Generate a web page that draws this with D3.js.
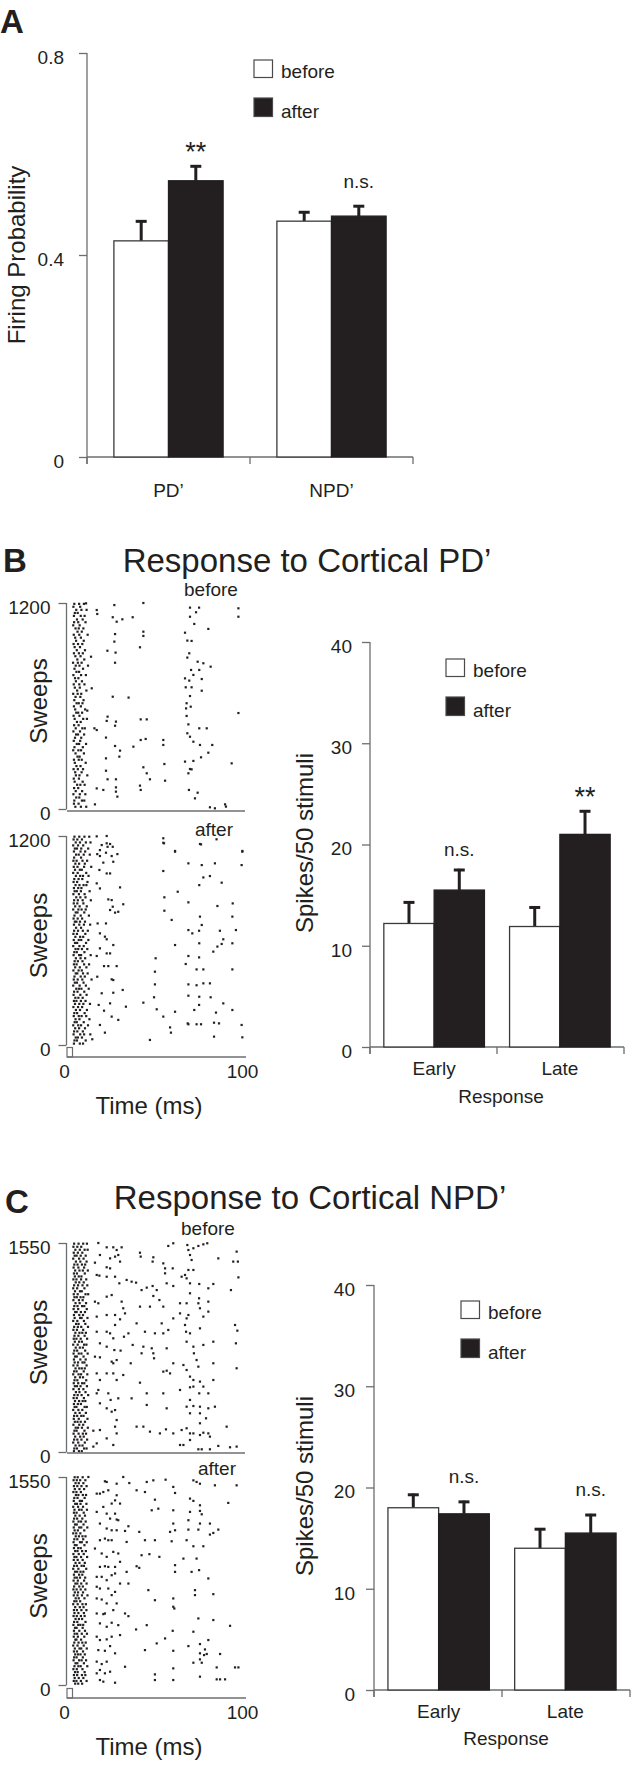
<!DOCTYPE html>
<html><head><meta charset="utf-8">
<script src="https://cdn.jsdelivr.net/npm/d3@7"></script>
<style>body{margin:0;background:#fff}svg{display:block}</style>
</head><body>
<svg id="c" width="631" height="1766"></svg>
<script>
// ---------------- DATA ----------------
const seriesNames = ["before", "after"];
const aCategories = ["PD’", "NPD’"];
const aBefore = [0.428, 0.467];
const aBeforeErr = [0.041, 0.020];
const aAfter = [0.547, 0.477];
const aAfterErr = [0.031, 0.022];
const aSig = ["**", "n.s."];
const aTicks = [0, 0.4, 0.8];

const respCategories = ["Early", "Late"];
const bBefore = [12.2, 11.9];
const bBeforeErr = [2.2, 2.0];
const bAfter = [15.5, 21.0];
const bAfterErr = [2.1, 2.4];
const bSig = ["n.s.", "**"];

const cBefore = [18.0, 14.0];
const cBeforeErr = [1.4, 2.0];
const cAfter = [17.4, 15.5];
const cAfterErr = [1.3, 1.9];
const cSig = ["n.s.", "n.s."];
const countTicks = [0, 10, 20, 30, 40];

const timeTicks = [0, 100];
const bSweepTicks = [0, 1200];
const cSweepTicks = [0, 1550];

// raster spikes [time ms, sweep]
const bBeforeBand = [[1195,[4.1,6.8,9.5]],[1178,[3.6,7.4]],[1160,[5.2,8.1,11.0]],[1142,[4.4,6.0]],[1125,[3.9,7.7,9.9]],[1104,[5.6,8.8]],[1088,[4.0,6.3,10.4]],[1070,[3.5,7.1]],[1052,[4.8,6.6,9.2]],[1033,[5.9,8.3]],[1015,[3.8,6.9,11.6]],[998,[4.6,7.8]],[980,[5.1,9.4]],[961,[3.7,6.2,8.6]],[943,[4.3,7.3]],[925,[5.5,10.1]],[907,[3.9,6.7,8.9]],[890,[4.7,7.6]],[871,[5.8,9.7]],[852,[3.4,6.1,8.2]],[835,[4.9,7.0,11.8]],[817,[4.2,9.0]],[799,[5.3,6.8]],[780,[3.6,7.9,10.6]],[762,[4.5,6.4]],[744,[5.0,8.4]],[726,[3.8,6.9,9.8]],[707,[4.4,7.2]],[690,[5.7,10.9]],[671,[3.5,6.0,8.0]],[653,[4.8,7.5]],[634,[4.1,9.3]],[616,[5.4,6.6,8.7]],[598,[3.9,7.8]],[580,[4.6,10.2]],[561,[5.2,6.3,8.5]],[543,[3.7,7.0]],[525,[4.3,9.1,11.2]],[507,[5.6,7.7]],[488,[4.0,6.5]],[470,[4.9,8.6,10.0]],[452,[3.6,7.3]],[434,[5.1,6.2,9.6]],[415,[4.5,8.0]],[397,[3.8,7.4]],[379,[5.5,6.8,10.7]],[360,[4.2,8.9]],[342,[3.5,6.4,7.9]],[324,[4.8,9.5]],[305,[5.9,7.1]],[287,[3.9,6.6,8.3]],[269,[4.4,10.5]],[250,[5.3,7.6]],[232,[3.7,6.1,9.0]],[214,[4.6,8.2]],[196,[5.0,7.0,11.4]],[177,[3.8,6.7]],[159,[4.3,8.8]],[141,[5.7,7.5,9.9]],[122,[4.0,6.3]],[104,[4.9,8.5]],[86,[3.6,7.2,10.3]],[67,[5.2,6.9]],[49,[4.1,8.4,9.7]],[31,[3.9,6.5]],[13,[4.7,7.8,10.8]]];
const bBeforeSparse = [[10.7,1198],[16.7,1159],[17.0,1136],[26.6,1188],[42.9,1200],[25.7,1117],[27.9,1091],[31.1,1105],[36.9,1117],[42.9,1033],[42.9,1008],[27.0,1019],[26.6,975],[41.0,942],[22.7,922],[27.3,911],[27.0,852],[13.5,887],[34.6,649],[25.7,654],[22.3,513],[27.5,509],[27.0,485],[22.8,538],[15.4,470],[16.7,460],[13.9,703],[11.4,573],[41.4,522],[44.8,522],[44.2,408],[41.4,402],[21.9,416],[27.0,367],[29.8,340],[29.4,305],[37.3,363],[54.1,402],[54.1,373],[54.7,262],[21.9,295],[21.9,223],[22.8,173],[27.5,173],[42.9,243],[44.8,208],[46.6,173],[55.1,165],[41.0,136],[41.4,111],[27.5,126],[27.5,101],[28.3,72],[16.7,120],[20.4,111],[15.7,27],
[69.1,1173],[72.5,1146],[74.2,1173],[69.1,1120],[71.5,1078],[79.4,1049],[66.3,1027],[67.6,981],[70.0,979],[68.7,907],[67.6,882],[73.4,858],[76.6,849],[80.7,829],[74.3,810],[69.7,810],[71.0,781],[66.3,761],[68.7,748],[75.7,757],[66.7,709],[70.0,709],[75.7,689],[69.1,658],[67.2,616],[66.9,586],[69.5,596],[67.2,542],[68.2,493],[74.3,470],[78.5,470],[67.6,441],[69.1,421],[71.0,392],[74.7,373],[81.6,373],[79.4,328],[75.3,301],[66.3,276],[71.0,280],[69.1,233],[70.0,231],[68.2,208],[92.5,266],[68.5,111],[73.4,95],[71.9,62],[96.3,1169],[96.3,1120],[96.3,559],[80.3,10],[83.1,4],[88.8,27],[89.3,14]];

const bAfterBand = [[1196,[4.2,6.9,9.8,12.5]],[1180,[3.7,5.8,8.4]],[1163,[4.9,7.3,10.6,13.2]],[1146,[3.5,6.2,9.1]],[1128,[4.4,5.6,8.0,11.9]],[1111,[3.9,7.6,10.2]],[1093,[5.1,6.6,9.4,12.8]],[1076,[4.0,7.9]],[1058,[3.6,5.4,8.7,11.3]],[1041,[4.7,6.8,10.0]],[1023,[3.8,5.9,9.6,13.6]],[1006,[4.5,7.2,8.3]],[988,[3.5,6.0,10.8]],[971,[5.0,7.4,9.0,12.1]],[953,[4.1,6.5,8.6]],[936,[3.7,5.7,11.5]],[918,[4.8,7.0,9.3,10.9]],[901,[3.9,6.3,8.1]],[883,[4.3,5.5,7.8,12.7]],[866,[3.6,6.7,9.9]],[848,[5.2,7.5,10.4]],[831,[4.0,6.1,8.8,13.4]],[813,[3.8,5.8,9.2]],[796,[4.6,7.1,11.1]],[778,[3.5,6.4,8.2,10.5]],[761,[4.9,5.9,9.7]],[743,[4.2,7.7,12.3]],[726,[3.7,6.0,8.5]],[708,[4.4,5.3,7.3,10.1]],[691,[3.9,6.9,9.5,13.0]],[673,[5.1,7.9]],[656,[4.0,6.2,8.9,11.7]],[638,[3.6,5.6,10.3]],[621,[4.7,7.4,9.1]],[603,[3.8,6.6,8.0,12.0]],[586,[4.5,5.7,10.7]],[568,[3.5,7.0,9.4]],[551,[4.8,6.3,8.4,11.4]],[533,[4.1,5.5,9.8]],[516,[3.7,6.8,7.9,13.3]],[498,[5.0,7.6,10.2]],[481,[4.3,6.1,8.7]],[463,[3.9,5.4,9.6,12.4]],[446,[4.6,7.2,10.9]],[428,[3.6,6.5,8.3]],[411,[4.9,5.8,9.0,11.6]],[393,[4.2,7.7,10.0]],[376,[3.8,6.0,8.6,13.8]],[358,[4.4,5.6,9.3]],[341,[3.5,7.1,10.6]],[323,[5.2,6.7,8.1,12.2]],[306,[4.0,5.9,9.7]],[288,[3.7,7.5,11.0]],[271,[4.7,6.4,8.8]],[253,[3.9,5.3,7.8,10.4]],[236,[4.5,6.9,9.2,12.9]],[218,[3.6,6.2,8.5]],[201,[5.0,7.3,11.2]],[183,[4.1,5.7,9.9]],[166,[3.8,6.6,8.2,10.8]],[148,[4.8,7.0,12.6]],[131,[4.3,5.5,9.4]],[113,[3.5,6.3,7.9,11.8]],[96,[4.6,6.8,10.1]],[78,[4.0,5.8,8.9]],[61,[3.7,7.4,9.6,13.1]],[43,[4.9,6.1,8.4]],[26,[4.2,5.6,10.5]],[8,[3.9,7.2,9.0]]];
const bAfterMid = [[17.0,1096],[18.5,1085],[22.3,1158],[24.2,1154],[21.9,1104],[25.1,1085],[26.0,1052],[20.4,1047],[24.2,985],[22.3,985],[18.2,1005],[16.7,928],[18.5,899],[23.2,836],[25.1,832],[29.8,905],[31.6,808],[24.2,775],[27.0,760],[28.8,765],[25.7,794],[17.2,698],[21.9,698],[18.5,641],[21.3,622],[22.3,607],[18.5,555],[22.3,526],[24.2,526],[26.0,574],[16.7,511],[20.8,453],[23.2,453],[27.9,453],[17.0,392],[25.1,377],[26.0,373],[19.5,297],[26.0,300],[31.3,316],[17.8,230],[24.2,239],[25.1,163],[20.8,197],[28.8,144],[18.5,115],[21.3,71],[14.2,33],[16.7,1198],[22.3,1200],[19.5,1148],[22.8,1138],[25.7,1138],[28.3,1096],[18.5,1119]];
const bAfterSparse = [[54.1,1161],[60.7,1110],[75.3,1152],[98.5,1110],[68.2,1043],[75.7,1033],[83.1,1043],[98.1,1033],[54.1,999],[76.6,962],[80.3,970],[86.9,932],[74.3,918],[62.2,880],[54.7,848],[68.2,819],[84.5,798],[93.1,813],[54.7,771],[58.8,718],[92.9,737],[74.7,737],[68.2,660],[70.4,641],[74.2,656],[75.7,689],[85.9,656],[94.9,660],[60.7,574],[87.8,607],[84.5,565],[74.3,584],[86.9,580],[82.2,536],[92.9,584],[49.8,498],[68.2,511],[74.2,503],[66.7,465],[72.8,434],[76.6,434],[92.9,434],[49.4,421],[49.4,348],[68.2,348],[72.8,343],[76.6,354],[80.3,354],[48.9,274],[68.2,283],[74.3,277],[80.7,274],[42.9,243],[33.1,220],[50.4,205],[60.7,191],[71.5,201],[74.2,230],[83.7,186],[87.8,239],[92.9,201],[54.1,163],[57.9,101],[67.8,124],[68.2,119],[72.8,119],[75.3,119],[82.6,128],[85.4,124],[98.1,115],[58.4,71],[46.6,29],[82.6,48],[98.5,44],[54.1,1187],[54.5,1158],[60.7,1114],[74.7,1154],[84.0,1181],[98.5,1114]];

const cBeforeBand = [[1545,[4.0,6.5,9.1,11.2]],[1522,[3.6,5.8,8.0]],[1500,[4.7,7.2,9.9,11.6]],[1478,[3.8,6.1,8.6]],[1456,[4.3,5.4,7.7,10.5]],[1434,[3.5,6.8,9.3]],[1412,[5.0,7.5,11.0]],[1390,[4.1,5.9,8.4,10.2]],[1368,[3.7,6.4,9.6]],[1346,[4.6,7.0,8.9,11.7]],[1324,[3.9,5.6,10.0]],[1302,[4.4,6.6,8.1]],[1280,[3.6,5.3,7.9,10.8]],[1258,[4.9,6.9,9.4]],[1236,[4.0,6.2,8.7,11.4]],[1214,[3.5,5.7,9.8]],[1192,[4.5,7.3,8.3]],[1170,[3.8,6.0,10.4,11.9]],[1148,[4.2,5.5,7.6,9.2]],[1126,[3.6,6.7,8.8]],[1104,[4.8,7.1,10.7]],[1082,[4.1,5.9,8.5,9.7]],[1060,[3.7,6.3,11.1]],[1038,[4.6,5.4,7.8,10.1]],[1016,[3.9,6.9,9.0]],[994,[4.3,7.4,8.2,11.5]],[972,[3.5,5.8,9.5]],[950,[5.1,6.5,10.3]],[928,[4.0,6.1,8.0,11.8]],[906,[3.6,5.6,9.1]],[884,[4.7,7.0,8.6,10.6]],[862,[4.2,6.4,9.9]],[840,[3.8,5.3,7.7,11.3]],[818,[4.4,6.8,8.4]],[796,[3.5,6.0,9.6,10.9]],[774,[4.9,7.2,8.9]],[752,[4.1,5.7,10.2]],[730,[3.7,6.6,8.1,11.6]],[708,[4.5,5.5,9.3]],[686,[3.9,7.5,10.5]],[664,[4.3,6.2,8.7,9.8]],[642,[3.6,5.9,11.0]],[620,[4.8,6.9,8.3,10.0]],[598,[4.0,5.4,9.4]],[576,[3.5,6.5,7.9,11.4]],[554,[4.6,7.3,9.0]],[532,[4.2,5.8,10.8]],[510,[3.8,6.3,8.5,9.7]],[488,[4.4,5.6,7.6,11.2]],[466,[3.6,6.7,9.2]],[444,[5.0,7.0,10.4]],[422,[4.1,6.0,8.2,11.9]],[400,[3.7,5.5,9.5]],[378,[4.5,6.8,8.8,10.3]],[356,[3.9,6.1,7.8]],[334,[4.3,5.3,9.9,11.1]],[312,[3.5,6.4,8.6]],[290,[4.7,7.1,10.6]],[268,[4.0,5.7,8.0,9.3]],[246,[3.8,6.6,11.5]],[224,[4.4,5.9,7.7,10.1]],[202,[3.6,6.9,9.1]],[180,[4.9,6.2,8.4,11.7]],[158,[4.2,5.4,9.8]],[136,[3.7,6.5,8.9,10.7]],[114,[4.6,7.4,9.4]],[92,[4.0,5.8,8.1,11.3]],[70,[3.5,6.3,10.0]],[48,[4.8,7.0,8.7]],[26,[4.1,5.6,9.6,11.0]],[6,[3.9,6.7,8.3]]];
const cBeforeSparse = [[17.6,1550],[22.3,1518],[26.0,1518],[27.9,1498],[30.7,1518],[27.0,1449],[24.2,1436],[28.8,1461],[41.0,1478],[41.4,1449],[48.5,1444],[48.1,1412],[56.9,1528],[59.7,1548],[67.6,1535],[68.2,1498],[71.0,1511],[73.8,1528],[76.6,1540],[78.8,1548],[69.1,1461],[70.0,1424],[85.0,1436],[95.3,1486],[93.4,1412],[96.0,1412],[54.1,1399],[55.1,1362],[59.4,1362],[55.1,1325],[18.5,1461],[15.7,1404],[22.3,1370],[24.2,1362],[29.8,1412],
[16.7,1313],[18.2,1308],[22.3,1300],[27.0,1300],[29.4,1251],[33.5,1276],[36.3,1263],[38.8,1256],[44.8,1219],[48.1,1231],[50.4,1201],[41.9,1201],[56.0,1251],[59.7,1231],[64.4,1300],[66.3,1313],[68.2,1350],[71.0,1350],[67.2,1288],[69.1,1251],[74.3,1246],[79.4,1214],[82.2,1246],[92.1,1201],[96.3,1295],[69.1,1177],[74.2,1140],[79.4,1115],[15.7,1115],[17.6,1103],[22.3,1152],[25.1,1164],[30.7,1115],[31.6,1066],[32.6,1028],[48.5,1157],[41.0,1078],[46.6,1078],[51.9,1127],[54.1,1078],[63.5,1103],[67.2,1103],[73.8,1103],[74.7,1066],[63.5,1028],[68.2,1016],[76.6,1004],[79.4,1041],[16.7,1004],[22.3,1016],[27.0,1016],[27.0,942],[29.8,984],[39.1,954],[53.2,954],[59.7,991],[67.2,991],
[16.7,892],[22.3,892],[24.2,880],[26.0,843],[32.0,855],[34.5,880],[43.8,892],[49.4,880],[54.1,880],[56.9,905],[66.3,942],[66.9,892],[69.1,880],[74.7,917],[94.4,942],[95.7,900],[18.5,806],[22.3,781],[26.6,756],[30.1,752],[36.9,794],[42.9,781],[47.6,769],[48.5,732],[56.0,769],[67.2,818],[71.0,781],[71.3,732],[76.6,794],[82.2,818],[94.9,806],[15.7,707],[18.5,702],[25.1,670],[26.0,658],[27.9,682],[35.8,658],[41.9,732],[48.9,695],[59.7,658],[65.4,645],[72.8,682],[73.8,633],[82.2,658],[95.3,621],
[16.7,583],[18.5,534],[22.3,583],[26.0,583],[27.9,534],[31.6,571],[41.0,514],[54.1,596],[56.0,603],[57.9,583],[67.2,608],[69.1,559],[71.0,534],[74.7,522],[76.6,485],[82.2,534],[16.7,435],[17.6,460],[23.2,435],[24.5,386],[28.8,398],[36.3,398],[44.8,435],[54.1,435],[63.5,460],[69.1,480],[71.0,485],[74.3,435],[79.4,435],[67.2,336],[69.1,386],[71.0,341],[74.7,336],[79.4,324],[83.1,336],[18.5,361],[22.3,324],[25.1,299],[27.0,311],[27.9,237],[56.0,324],[44.8,349],[69.1,287],[74.7,287],[78.1,250],[74.7,213],
[14.8,158],[18.5,163],[27.0,188],[27.9,138],[22.3,101],[26.0,52],[39.1,188],[42.9,188],[46.6,151],[52.2,138],[55.6,168],[59.7,138],[64.4,163],[67.2,176],[69.1,138],[71.0,138],[74.7,126],[76.6,143],[79.4,138],[80.3,114],[89.7,188],[63.5,52],[65.4,52],[69.1,89],[73.8,20],[75.7,20],[80.3,20],[85.0,45],[91.6,35],[95.3,40],[16.7,64],[14.8,40]];

const cAfterBand = [[1548,[4.3,6.0,8.8]],[1526,[3.7,5.5,7.4,10.3]],[1504,[4.8,6.6,9.2]],[1482,[3.9,5.8,8.1,11.0]],[1460,[4.4,7.0,9.6]],[1438,[3.6,5.3,7.8]],[1416,[5.0,6.4,8.9,10.7]],[1394,[4.1,5.9,9.9]],[1372,[3.8,7.2,8.4]],[1350,[4.6,5.6,7.6,10.9]],[1328,[3.5,6.2,9.0]],[1306,[4.2,6.8,8.2,11.2]],[1284,[3.9,5.4,9.4]],[1262,[4.7,7.1,10.1]],[1240,[4.0,5.7,8.6]],[1218,[3.6,6.5,7.9,10.5]],[1196,[4.5,5.5,9.3]],[1174,[3.8,6.9,8.0,11.4]],[1152,[4.3,6.1,9.7]],[1130,[3.5,5.2,7.5]],[1108,[4.9,6.7,8.7,10.4]],[1086,[4.1,5.8,9.1]],[1064,[3.7,7.3,8.3,11.1]],[1042,[4.4,5.4,9.8]],[1020,[3.9,6.3,7.7]],[998,[4.6,5.9,8.5,10.6]],[976,[3.6,6.6,9.4]],[954,[4.2,5.3,7.9,11.3]],[932,[3.8,6.0,8.8]],[910,[4.8,7.0,10.0]],[888,[4.0,5.6,8.2,9.5]],[866,[3.5,6.4,10.8]],[844,[4.5,5.7,7.6,9.2]],[822,[3.9,6.8,8.6]],[800,[4.3,5.5,7.3,10.2]],[778,[3.7,6.1,9.6]],[756,[4.7,5.8,8.0,11.0]],[734,[4.0,6.9,8.9]],[712,[3.6,5.4,7.7,10.3]],[690,[4.4,6.2,9.0]],[668,[3.8,5.9,8.4,11.5]],[646,[4.9,6.6,9.8]],[624,[4.1,5.3,7.4]],[602,[3.5,6.0,8.7,10.6]],[580,[4.6,7.2,9.3]],[558,[3.9,5.6,8.1,10.9]],[536,[4.2,6.4,9.5]],[514,[3.7,5.5,7.8,9.9]],[492,[4.8,6.7,8.5]],[470,[4.0,5.8,10.4]],[448,[3.6,6.3,7.5,9.1]],[426,[4.5,5.4,8.8]],[404,[3.9,6.9,10.1]],[382,[4.3,5.7,8.3,11.2]],[360,[3.8,6.1,9.7]],[338,[4.7,5.3,7.9]],[316,[4.1,6.5,8.6,10.5]],[294,[3.5,5.9,9.4]],[272,[4.4,7.0,8.0,11.1]],[250,[3.9,5.6,9.0]],[228,[4.6,6.2,7.6,10.0]],[206,[4.0,5.4,8.9]],[184,[3.7,6.8,8.2,10.7]],[162,[4.8,5.8,9.5]],[140,[4.2,6.4,7.7,11.4]],[118,[3.6,5.5,8.7]],[96,[4.5,6.0,9.9]],[74,[3.9,5.7,8.4,10.3]],[52,[4.3,6.6,9.2]],[30,[3.8,5.3,7.8,11.0]],[10,[4.6,6.3,8.5]]];
const cAfterMid = [[16.7,1426],[18.5,1426],[20.4,1438],[23.2,1451],[22.3,1513],[25.1,1352],[27.0,1376],[27.9,1414],[29.8,1352],[20.4,1327],[22.3,1277],[24.2,1240],[27.0,1277],[27.9,1233],[28.8,1228],[16.7,1290],[18.5,1203],[22.3,1166],[25.1,1153],[27.9,1153],[18.5,1079],[21.3,1091],[23.2,1079],[25.1,1079],[15.7,1017],[19.5,980],[22.3,955],[26.0,992],[28.8,980],[18.5,880],[21.3,885],[23.2,880],[27.0,880],[29.8,918],[16.7,806],[19.5,806],[22.3,781],[25.1,818],[27.0,831],[16.7,732],[18.5,719],[23.2,719],[27.0,694],[29.8,756],[16.7,645],[19.5,637],[22.3,608],[25.1,670],[27.9,608],[16.7,533],[20.4,528],[21.3,533],[26.0,558],[18.5,459],[22.3,434],[25.1,464],[28.8,446],[16.7,360],[18.5,335],[22.3,340],[25.1,360],[29.8,372],[17.6,260],[21.3,255],[24.2,290],[27.0,236],[16.7,174],[19.5,156],[22.3,174],[18.5,112],[21.3,87],[24.2,99],[16.7,87],[18.5,37],[20.4,25]];
const cAfterSparse = [[12.0,1550],[21.3,1518],[27.9,1500],[31.6,1550],[35.0,1505],[44.8,1513],[48.5,1525],[55.4,1530],[39.1,1451],[43.8,1438],[49.4,1381],[59.7,1476],[60.7,1431],[71.0,1525],[72.8,1513],[74.7,1500],[83.1,1488],[95.3,1488],[69.1,1389],[71.0,1372],[74.7,1339],[90.6,1357],[47.6,1302],[51.3,1314],[59.7,1302],[69.1,1290],[74.7,1297],[68.2,1228],[75.7,1272],[59.7,1203],[60.7,1153],[74.7,1203],[80.3,1203],[68.2,1158],[73.8,1158],[85.0,1158],[82.2,1133],[57.9,1141],[67.2,1079],[71.0,1034],[76.6,1034],[80.3,1121],[34.5,1183],[32.6,1148],[40.6,1141],[33.5,1066],[43.8,1079],[49.4,1079],[58.8,1071],[65.4,942],[72.8,942],[41.9,967],[46.3,975],[51.9,955],[60.7,893],[60.7,843],[70.0,843],[74.2,856],[79.4,794],[39.1,885],[40.6,873],[33.5,843],[34.5,756],[45.7,707],[49.4,632],[59.7,645],[71.9,707],[71.9,670],[82.2,677],[73.8,496],[82.2,484],[91.6,441],[59.7,583],[60.3,570],[44.8,446],[38.8,414],[34.5,513],[32.6,533],[59.4,404],[55.1,347],[71.0,397],[74.7,305],[79.4,335],[68.2,290],[77.5,265],[74.7,236],[77.0,223],[74.7,191],[75.7,166],[71.0,166],[78.5,231],[86.0,231],[94.4,131],[96.3,131],[84.1,131],[74.7,62],[59.7,124],[59.7,37],[49.4,79],[49.4,37],[32.6,136],[43.8,260],[59.7,255],[50.4,310],[27.0,17],[84.1,42],[86.0,42],[88.8,42]];

// ---------------- DRAWING ----------------
const FONT = '"Liberation Sans", Arial, Helvetica, sans-serif';
const INK = "#231f20", AXIS = "#6d6e71";
const svg = d3.select("#c");
const flatBand = band => band.flatMap(([s, ts]) => ts.map(t => [t, s]));

function txt(g, x, y, s, size, anchor, extra) {
  const t = g.append("text").attr("x", x).attr("y", y).text(s)
    .attr("font-family", FONT).attr("font-size", size).attr("fill", INK)
    .attr("text-anchor", anchor || "start");
  if (extra) extra(t);
  return t;
}
function vline(g, x, y1, y2, w) { g.append("line").attr("x1", x).attr("x2", x).attr("y1", y1).attr("y2", y2).attr("stroke", AXIS).attr("stroke-width", w || 1.3); }
function hline(g, x1, x2, y, w) { g.append("line").attr("x1", x1).attr("x2", x2).attr("y1", y).attr("y2", y).attr("stroke", AXIS).attr("stroke-width", w || 1.3); }

function drawBars(o) {
  const g = svg.append("g");
  const y = d3.scaleLinear().domain([0, o.yMax]).range([o.y0, o.y1]);
  const x = d3.scaleBand().domain(o.cats).range([o.x0, o.x1]).paddingInner(o.pi).paddingOuter(o.po);
  const xs = d3.scaleBand().domain(seriesNames).range([0, x.bandwidth()]);
  // y axis
  const ya = d3.axisLeft(y).tickValues(o.ticks).tickSize(8).tickPadding(o.tickPad).tickFormat(o.fmt);
  const yg = g.append("g").attr("transform", `translate(${o.x0},0)`).call(ya);
  yg.select(".domain").remove();
  yg.selectAll(".tick line").attr("stroke", AXIS).attr("stroke-width", 1.3);
  yg.selectAll(".tick text").attr("font-family", FONT).attr("font-size", 19).attr("fill", INK).attr("dy", "0.55em");
  vline(g, o.x0, y(o.yMax), o.y0 + 7);
  // x axis
  hline(g, o.x0, o.x1, o.y0);
  const mid = (x(o.cats[0]) + x.bandwidth() + x(o.cats[1])) / 2;
  [o.x0, mid, o.x1].forEach(px => vline(g, px, o.y0, o.y0 + 7));
  // bars
  const series = [{ name: "before", v: o.before, e: o.beforeErr }, { name: "after", v: o.after, e: o.afterErr }];
  series.forEach(s => {
    o.cats.forEach((c, i) => {
      const bx = x(c) + xs(s.name);
      const top = y(s.v[i]), etop = y(s.v[i] + s.e[i]);
      const cx = bx + xs.bandwidth() / 2;
      g.append("line").attr("x1", cx).attr("x2", cx).attr("y1", top).attr("y2", etop).attr("stroke", INK).attr("stroke-width", 3);
      g.append("line").attr("x1", cx - 5.5).attr("x2", cx + 5.5).attr("y1", etop + 1.2).attr("y2", etop + 1.2).attr("stroke", INK).attr("stroke-width", 3);
      g.append("rect").attr("x", bx).attr("y", top).attr("width", xs.bandwidth()).attr("height", o.y0 - top)
        .attr("fill", s.name === "before" ? "#fff" : INK).attr("stroke", s.name === "before" ? "#3a3a3a" : INK).attr("stroke-width", 1.3);
    });
  });
  // significance labels above "after" bars
  o.cats.forEach((c, i) => {
    const cx = x(c) + xs("after") + xs.bandwidth() / 2;
    const etop = y(o.after[i] + o.afterErr[i]);
    if (o.sig[i] === "**") txt(g, cx, etop - 4, "**", 27, "middle");
    else txt(g, cx, etop - o.nsGap, o.sig[i], 19, "middle");
  });
  // category labels
  o.cats.forEach(c => txt(g, x(c) + x.bandwidth() / 2, o.y0 + o.catGap, c, 19, "middle"));
  if (o.xTitle) txt(g, (o.x0 + o.x1) / 2 + 4, o.y0 + o.xTitleGap, o.xTitle, 19, "middle");
  // legend
  const L = o.legend;
  g.append("rect").attr("x", L.x).attr("y", L.y).attr("width", 18.5).attr("height", 17.5).attr("fill", "#fff").attr("stroke", "#4a4a4a").attr("stroke-width", 1.2);
  g.append("rect").attr("x", L.x).attr("y", L.y + 38).attr("width", 18.5).attr("height", 18.5).attr("fill", INK).attr("stroke", "#4a4a4a").attr("stroke-width", 1.2);
  txt(g, L.x + 27, L.y + 17.5, "before", 19);
  txt(g, L.x + 27, L.y + 58, "after", 19);
  // y title
  txt(g, 0, 0, o.yTitle, 24, "middle", t => t.attr("transform", `translate(${o.yTitleX},${o.yTitleY}) rotate(-90)`));
}

function drawRaster(o) {
  const g = svg.append("g");
  const x = d3.scaleLinear().domain([0, 100]).range([67, 245]);
  const y = d3.scaleLinear().domain([0, o.max]).range([o.yBottom, o.yTop]);
  g.selectAll("rect.dot").data(o.dots).join("rect").attr("class", "dot")
    .attr("x", d => x(d[0]) - 1.1).attr("y", d => y(d[1]) - 1.1)
    .attr("width", 2.2).attr("height", 2.2).attr("fill", INK);
  const ya = d3.axisLeft(y).tickValues(o.ticks).tickSize(8).tickPadding(8).tickFormat(d3.format("d"));
  const yg = g.append("g").attr("transform", "translate(66.5,0)").call(ya);
  yg.select(".domain").remove();
  yg.selectAll(".tick line").attr("stroke", AXIS).attr("stroke-width", 1.3);
  yg.selectAll(".tick text").attr("font-family", FONT).attr("font-size", 19).attr("fill", INK).attr("dy", "0.55em");
  vline(g, 66.5, o.yTop, o.yBottom);
  txt(g, o.labelX, o.labelY, o.label, 19);
  txt(g, 0, 0, "Sweeps", 24, "middle", t => t.attr("transform", `translate(47,${(o.yTop + o.yBottom) / 2 - 5}) rotate(-90)`));
  if (o.timeAxis) {
    const ly = o.lineY;
    g.append("rect").attr("x", 67).attr("y", ly - 9.5).attr("width", 5.5).attr("height", 9.5).attr("fill", "none").attr("stroke", AXIS).attr("stroke-width", 1.2);
    hline(g, 67, 246, ly);
    const xa = d3.axisBottom(x).tickValues(timeTicks).tickSize(0).tickPadding(0).tickFormat(d3.format("d"));
    const xg = g.append("g").attr("transform", `translate(-3,${ly + 21})`).call(xa);
    xg.select(".domain").remove();
    xg.selectAll(".tick text").attr("font-family", FONT).attr("font-size", 19).attr("fill", INK).attr("dy", "0");
    txt(g, 149, ly + 57, "Time (ms)", 24, "middle");
  } else {
    hline(g, 67, 245, o.lineY);
  }
}

// Panel A
txt(svg, 0, 33, "A", 33, "start", t => t.attr("font-weight", "bold"));
drawBars({
  cats: aCategories, before: aBefore, beforeErr: aBeforeErr, after: aAfter, afterErr: aAfterErr, sig: aSig,
  yMax: 0.8, y0: 457, y1: 53, x0: 87, x1: 413, pi: 0.33, po: 0.165,
  ticks: aTicks, tickPad: 15, fmt: d => d === 0 ? "0" : d3.format(".1f")(d),
  nsGap: 17, catGap: 40, xTitle: null,
  legend: { x: 254, y: 60 }, yTitle: "Firing Probability", yTitleX: 25, yTitleY: 255
});

// Panel B
txt(svg, 3, 572, "B", 33, "start", t => t.attr("font-weight", "bold"));
txt(svg, 307, 572, "Response to Cortical PD’", 33, "middle");
drawRaster({ dots: flatBand(bBeforeBand).concat(bBeforeSparse), max: 1200, yTop: 603, yBottom: 809, ticks: bSweepTicks,
  label: "before", labelX: 184, labelY: 596, lineY: 811, timeAxis: false });
drawRaster({ dots: flatBand(bAfterBand).concat(bAfterMid, bAfterSparse), max: 1200, yTop: 836, yBottom: 1045, ticks: bSweepTicks,
  label: "after", labelX: 195, labelY: 836, lineY: 1057, timeAxis: true });
drawBars({
  cats: respCategories, before: bBefore, beforeErr: bBeforeErr, after: bAfter, afterErr: bAfterErr, sig: bSig,
  yMax: 40, y0: 1047, y1: 642, x0: 370, x1: 624, pi: 0.2, po: 0.11,
  ticks: countTicks, tickPad: 10, fmt: d3.format("d"),
  nsGap: 13, catGap: 28, xTitle: "Response", xTitleGap: 56,
  legend: { x: 446, y: 659 }, yTitle: "Spikes/50 stimuli", yTitleX: 313, yTitleY: 843
});

// Panel C
txt(svg, 5, 1213, "C", 33, "start", t => t.attr("font-weight", "bold"));
txt(svg, 310, 1209, "Response to Cortical NPD’", 33, "middle");
drawRaster({ dots: flatBand(cBeforeBand).concat(cBeforeSparse), max: 1550, yTop: 1243, yBottom: 1452, ticks: cSweepTicks,
  label: "before", labelX: 181, labelY: 1235, lineY: 1453, timeAxis: false });
drawRaster({ dots: flatBand(cAfterBand).concat(cAfterMid, cAfterSparse), max: 1550, yTop: 1477, yBottom: 1685, ticks: cSweepTicks,
  label: "after", labelX: 198, labelY: 1475, lineY: 1698, timeAxis: true });
drawBars({
  cats: respCategories, before: cBefore, beforeErr: cBeforeErr, after: cAfter, afterErr: cAfterErr, sig: cSig,
  yMax: 40, y0: 1690, y1: 1285, x0: 374, x1: 630, pi: 0.2, po: 0.11,
  ticks: countTicks, tickPad: 11, fmt: d3.format("d"),
  nsGap: 18, catGap: 28, xTitle: "Response", xTitleGap: 55,
  legend: { x: 461, y: 1301 }, yTitle: "Spikes/50 stimuli", yTitleX: 313, yTitleY: 1486
});
</script>
</body></html>
